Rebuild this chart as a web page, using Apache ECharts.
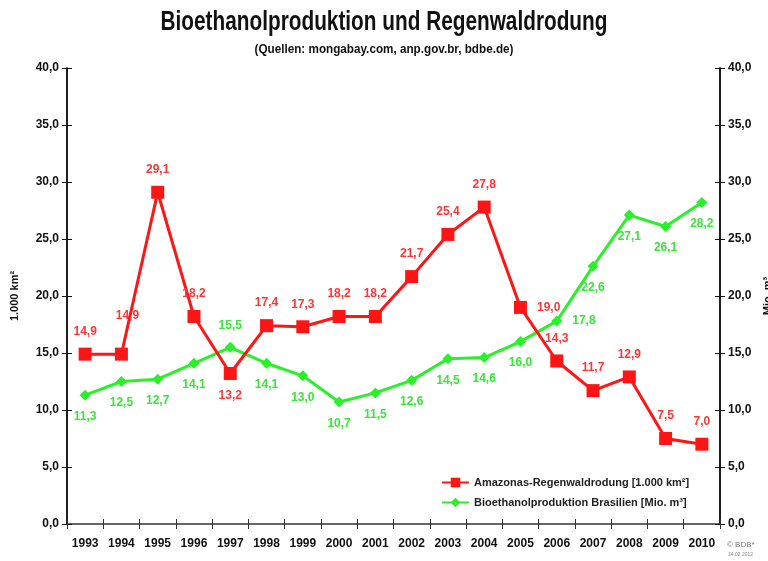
<!DOCTYPE html>
<html><head><meta charset="utf-8">
<script src="https://cdn.jsdelivr.net/npm/echarts@6/dist/echarts.min.js"></script>
<style>html,body{margin:0;padding:0;background:#fff}#c{width:768px;height:561px}</style>
</head><body><div id="c"></div>
<script>
const years = ['1993','1994','1995','1996','1997','1998','1999','2000','2001','2002','2003','2004','2005','2006','2007','2008','2009','2010'];
const rodung = [14.9,14.9,29.1,18.2,13.2,17.4,17.3,18.2,18.2,21.7,25.4,27.8,19.0,14.3,11.7,12.9,7.5,7.0];
const ethanol = [11.3,12.5,12.7,14.1,15.5,14.1,13.0,10.7,11.5,12.6,14.5,14.6,16.0,17.8,22.6,27.1,26.1,28.2];
const yTicks = [0,5,10,15,20,25,30,35,40];
const rodungLabelPos = ['top','top','top','top','bottom','top','top','top','top','top','top','top','right','top','top','top','top','top'];
const ethanolLabelPos = ['bottom','bottom','bottom','bottom','top','bottom','bottom','bottom','bottom','bottom','bottom','bottom','bottom','right','bottom','bottom','bottom','bottom'];

const FONT = '"Liberation Sans",Arial,sans-serif';
const fmt = v => v.toFixed(1).replace('.', ',');
const chart = echarts.init(document.getElementById('c'));

const yBase = {
  type:'value', min:yTicks[0], max:yTicks[yTicks.length-1], interval:5,
  splitLine:{show:false},
  axisLine:{show:true, lineStyle:{color:'#111', width:1.5}},
};
const yLabel = {show:true, fontFamily:FONT, fontWeight:'bold', fontSize:12, color:'#111', formatter:fmt};

chart.setOption({
  animation:false,
  grid:{left:67, right:48, top:68, bottom:37, containLabel:false, outerBoundsMode:'none'},
  legend:{
    orient:'vertical', left:436, top:472, itemWidth:27, itemHeight:12, itemGap:9,
    textStyle:{fontFamily:FONT, fontSize:11, color:'#222', fontWeight:'bold'},
    data:['Amazonas-Regenwaldrodung [1.000 km²]','Bioethanolproduktion Brasilien [Mio. m³]']
  },
  xAxis:[
    {type:'category', data:years, boundaryGap:true,
     axisLine:{lineStyle:{color:'#333', width:1.5}},
     axisTick:{show:true, length:5, inside:false, lineStyle:{color:'#333'}},
     axisLabel:{interval:0, fontFamily:FONT, fontWeight:'bold', fontSize:12, color:'#111', margin:14}},
    {type:'category', data:years, boundaryGap:true, position:'bottom',
     axisLine:{show:false},
     axisTick:{show:true, length:5, inside:true, lineStyle:{color:'#333'}},
     axisLabel:{show:false}}
  ],
  yAxis:[
    Object.assign({}, yBase, {position:'left', name:'1.000 km²', nameLocation:'middle', nameGap:47, nameRotate:90,
      nameTextStyle:{fontFamily:FONT, fontWeight:'bold', fontSize:11, color:'#111'},
      axisTick:{show:true, length:5, inside:false, lineStyle:{color:'#111'}}, axisLabel:Object.assign({margin:8}, yLabel)}),
    Object.assign({}, yBase, {position:'left', axisTick:{show:true, length:5, inside:true, lineStyle:{color:'#111'}}, axisLabel:{show:false}}),
    Object.assign({}, yBase, {position:'right', name:'Mio. m³', nameLocation:'middle', nameGap:41, nameRotate:90,
      nameTextStyle:{fontFamily:FONT, fontWeight:'bold', fontSize:11, color:'#111'},
      axisTick:{show:true, length:5, inside:false, lineStyle:{color:'#111'}}, axisLabel:Object.assign({margin:8}, yLabel)}),
    Object.assign({}, yBase, {position:'right', axisTick:{show:true, length:5, inside:true, lineStyle:{color:'#111'}}, axisLabel:{show:false}})
  ],
  series:[
    {name:'Amazonas-Regenwaldrodung [1.000 km²]', type:'line', yAxisIndex:0, z:3,
     data:rodung.map((v,i)=>({value:v, label:(i===1?{position:'top', offset:[6,-16]}:{position:rodungLabelPos[i]})})),
     symbol:'rect', symbolSize:13, color:'#ff1515',
     lineStyle:{width:3, color:'#ff1515'}, itemStyle:{color:'#ff1515'},
     label:{show:true, distance:10, fontFamily:FONT, fontWeight:'bold', fontSize:12, color:'#ff3535', formatter:p=>fmt(p.value)}},
    {name:'Bioethanolproduktion Brasilien [Mio. m³]', type:'line', yAxisIndex:2, z:2,
     data:ethanol.map((v,i)=>({value:v, label:{position:ethanolLabelPos[i]}})),
     symbol:'diamond', symbolSize:11, color:'#2af02a',
     lineStyle:{width:3, color:'#2af02a'}, itemStyle:{color:'#2af02a'},
     label:{show:true, distance:10, fontFamily:FONT, fontWeight:'bold', fontSize:12, color:'#3ae43a', formatter:p=>fmt(p.value)}}
  ],
  graphic:[
    {type:'text', x:384, y:23, scaleX:0.77, style:{text:'Bioethanolproduktion und Regenwaldrodung', font:'bold 27px '+FONT, fill:'#111', textAlign:'center', textVerticalAlign:'middle'}},
    {type:'text', x:384, y:49, scaleX:0.9, style:{text:'(Quellen: mongabay.com, anp.gov.br, bdbe.de)', font:'bold 13px '+FONT, fill:'#111', textAlign:'center', textVerticalAlign:'middle'}},
    {type:'text', left:727, top:541, style:{text:'© BDB*', font:'8px '+FONT, fill:'#777'}},
    {type:'text', left:728, top:552, style:{text:'14.02.2012', font:'5px '+FONT, fill:'#888'}}
  ]
});
</script></body></html>
